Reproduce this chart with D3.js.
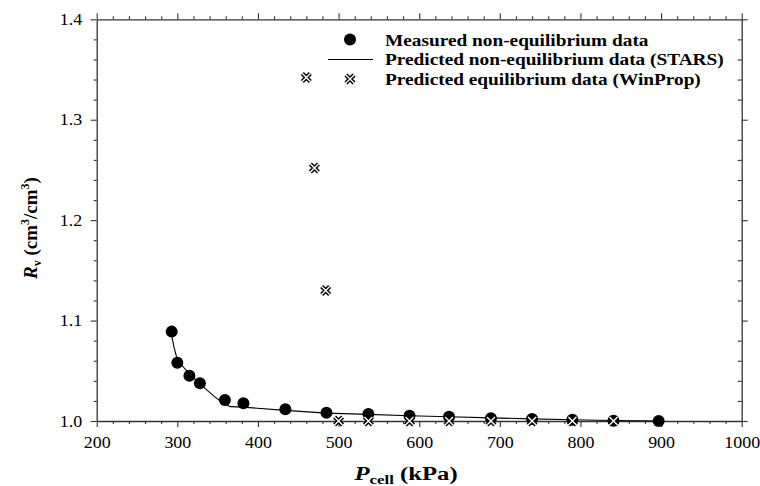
<!DOCTYPE html>
<html>
<head>
<meta charset="utf-8">
<script src="https://cdn.jsdelivr.net/npm/d3@7"></script>
<style>
  body { margin: 0; background: #fff; }
  svg text { font-family: "Liberation Serif", "Times New Roman", Times, "DejaVu Serif", serif; fill: #000; }
</style>
</head>
<body>
<div id="chart"></div>
<script>
// measured non-equilibrium data
const measP = [293, 300, 315, 328, 359, 382, 434, 485, 537, 588, 637, 689, 740, 790, 841, 897];
const measR = [1.089, 1.058, 1.045, 1.0375, 1.021, 1.0176, 1.0116, 1.0083, 1.007, 1.0053, 1.0043, 1.0027, 1.002, 1.0013, 1.0003, 1.0];

// predicted non-equilibrium (STARS)
const starsP = [293, 296, 299, 305, 315, 328, 345, 358, 366, 382, 434, 485, 537, 588, 637, 689, 740, 790, 841, 900];
const starsR = [1.085, 1.073, 1.064, 1.056, 1.047, 1.037, 1.025, 1.017, 1.0143, 1.0138, 1.0106, 1.0078, 1.0066, 1.0053, 1.0043, 1.0031, 1.0021, 1.0013, 1.0005, 1.0];

// predicted equilibrium (WinProp)
const eqP = [460, 470, 484, 500, 537, 588, 637, 689, 740, 790, 841];
const eqR = [1.342, 1.252, 1.13, 1.0, 1.0, 1.0, 1.0, 1.0, 1.0, 1.0, 1.0];

const xTicks = [200, 300, 400, 500, 600, 700, 800, 900, 1000];
const yTicks = [1.0, 1.1, 1.2, 1.3, 1.4];
const legendLabels = [
  "Measured non-equilibrium data",
  "Predicted non-equilibrium data (STARS)",
  "Predicted equilibrium data (WinProp)"
];

const serif = "'Liberation Serif', 'Times New Roman', Times, 'DejaVu Serif', serif";
const width = 760, height = 486;
const plot = {left: 96.7, right: 741.7, top: 19.3, bottom: 421};
const sx = 1.2;     // legend glyphs in the reference are a bit wide
const tickSx = 1.12;

const svg = d3.select("#chart").append("svg")
  .attr("width", width).attr("height", height)
  .attr("font-family", serif);

const x = d3.scaleLinear().domain([200, 1000]).range([plot.left, plot.right]);
const y = d3.scaleLinear().domain([1.0, 1.4]).range([plot.bottom, plot.top]);

const minorX = d3.range(200, 1001, 20).filter(v => v % 100 !== 0);
const minorY = d3.range(0, 41, 2).map(i => 1 + i / 100).filter((v, i) => i % 5 !== 0);

function styleAxis(g) {
  g.attr("font-family", serif);
  g.selectAll("path.domain").attr("stroke", "#333").attr("stroke-width", 1.3);
  g.selectAll(".tick line").attr("stroke", "#333").attr("stroke-width", 1.1);
}

// bottom axis
const gBottom = svg.append("g").attr("transform", `translate(0,${plot.bottom})`);
gBottom.call(d3.axisBottom(x).tickValues(xTicks).tickSizeInner(6).tickSizeOuter(0).tickPadding(10)
    .tickFormat(d3.format("d")))
  .call(styleAxis);
gBottom.selectAll(".tick text")
  .attr("font-size", 16)
  .attr("transform", `scale(${tickSx},1)`);
svg.append("g").attr("transform", `translate(0,${plot.bottom})`)
  .call(d3.axisBottom(x).tickValues(minorX).tickSize(3).tickFormat(""))
  .call(g => g.select(".domain").remove()).call(styleAxis);

// top axis
svg.append("g").attr("transform", `translate(0,${plot.top})`)
  .call(d3.axisTop(x).tickValues(xTicks).tickSizeInner(6).tickSizeOuter(0).tickFormat(""))
  .call(styleAxis);
svg.append("g").attr("transform", `translate(0,${plot.top})`)
  .call(d3.axisTop(x).tickValues(minorX).tickSize(3).tickFormat(""))
  .call(g => g.select(".domain").remove()).call(styleAxis);

// left axis
const gLeft = svg.append("g").attr("transform", `translate(${plot.left},0)`);
gLeft.call(d3.axisLeft(y).tickValues(yTicks).tickSizeInner(6).tickSizeOuter(0).tickPadding(7)
    .tickFormat(d3.format(".1f")))
  .call(styleAxis);
gLeft.selectAll(".tick text")
  .attr("font-size", 16)
  .attr("transform", `scale(${tickSx},1)`);
svg.append("g").attr("transform", `translate(${plot.left},0)`)
  .call(d3.axisLeft(y).tickValues(minorY).tickSize(3).tickFormat(""))
  .call(g => g.select(".domain").remove()).call(styleAxis);

// right axis
svg.append("g").attr("transform", `translate(${plot.right},0)`)
  .call(d3.axisRight(y).tickValues(yTicks).tickSizeInner(6).tickSizeOuter(0).tickFormat(""))
  .call(styleAxis);
svg.append("g").attr("transform", `translate(${plot.right},0)`)
  .call(d3.axisRight(y).tickValues(minorY).tickSize(-4).tickFormat(""))
  .call(g => g.select(".domain").remove()).call(styleAxis);

// x title
const xt = svg.append("text")
  .attr("transform", `translate(406,480) scale(1.3,1)`)
  .attr("text-anchor", "middle").attr("font-weight", "bold").attr("font-size", 19);
xt.append("tspan").attr("font-style", "italic").text("P");
xt.append("tspan").attr("font-size", 13).attr("dy", 4).text("cell");
xt.append("tspan").attr("dy", -4).text(" (kPa)");

// y title
const yt = svg.append("text")
  .attr("transform", `translate(37,228) rotate(-90)`)
  .attr("text-anchor", "middle").attr("font-weight", "bold").attr("font-size", 19);
yt.append("tspan").attr("font-style", "italic").text("R");
yt.append("tspan").attr("font-size", 12).attr("dy", 4).text("v");
yt.append("tspan").attr("dy", -4).text(" (cm");
yt.append("tspan").attr("font-size", 12).attr("dy", -8).text("3");
yt.append("tspan").attr("dy", 8).text("/cm");
yt.append("tspan").attr("font-size", 12).attr("dy", -8).text("3");
yt.append("tspan").attr("dy", 8).text(")");

// STARS line
const line = d3.line().x(d => x(d[0])).y(d => y(d[1]));
svg.append("path")
  .datum(d3.zip(starsP, starsR))
  .attr("d", line)
  .attr("fill", "none").attr("stroke", "#000").attr("stroke-width", 1.1);

// cross marker
function cross(g, cx, cy, s) {
  const d = `M${cx - s},${cy - s}L${cx + s},${cy + s}M${cx - s},${cy + s}L${cx + s},${cy - s}`;
  g.append("path").attr("d", d).attr("stroke", "#000").attr("stroke-width", 4.2).attr("fill", "none");
  g.append("path").attr("d", d).attr("stroke", "#fff").attr("stroke-width", 1.4).attr("fill", "none");
}

// measured points
svg.append("g").selectAll("circle")
  .data(d3.zip(measP, measR))
  .join("circle")
  .attr("cx", d => x(d[0])).attr("cy", d => y(d[1]))
  .attr("r", 6).attr("fill", "#000");

// equilibrium points
const gEq = svg.append("g");
d3.zip(eqP, eqR).forEach(d => cross(gEq, x(d[0]), y(d[1]), 4));

// legend
const lg = svg.append("g");
lg.append("circle").attr("cx", 350).attr("cy", 39.5).attr("r", 6).attr("fill", "#000");
lg.append("line").attr("x1", 328).attr("x2", 373).attr("y1", 59.5).attr("y2", 59.5)
  .attr("stroke", "#000").attr("stroke-width", 1.1);
cross(lg, 350, 79, 4);
legendLabels.forEach((t, i) => {
  lg.append("text")
    .attr("transform", `translate(385,${45.5 + i * 19.7}) scale(${sx},1)`)
    .attr("font-weight", "bold").attr("font-size", 16.1)
    .text(t);
});
</script>
</body>
</html>
